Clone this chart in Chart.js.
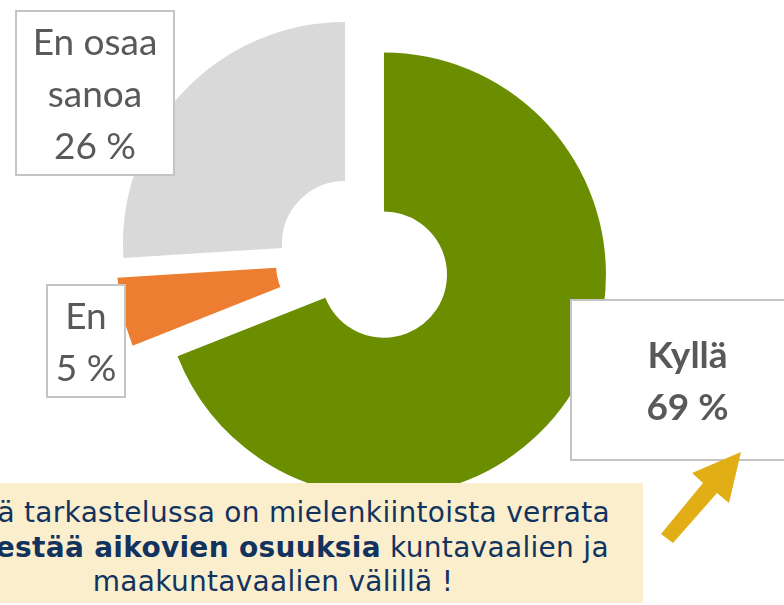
<!DOCTYPE html>
<html>
<head>
<meta charset="utf-8">
<script src="https://cdn.jsdelivr.net/npm/chart.js@4"></script>
<style>
  html, body { margin: 0; padding: 0; background: #fff; }
  #wrap { position: relative; width: 784px; height: 605px; overflow: hidden; }
  #myChart { position: absolute; left: 0; top: 0; }
  #note {
    position: absolute; left: -97px; top: 483px; width: 740px; height: 120px;
    box-sizing: border-box; padding-top: 13px;
    background: #faeecd; color: #13335f;
    font-family: "DejaVu Sans", Verdana, sans-serif; font-size: 28px; line-height: 34.5px;
    letter-spacing: 0.3px; text-align: center; white-space: nowrap;
  }
  #arrow { position: absolute; left: 0; top: 0; }
</style>
</head>
<body>
<div id="wrap">
  <canvas id="myChart" width="784" height="605"></canvas>
  <div id="note">Tässä tarkastelussa on mielenkiintoista verrata<br><b>äänestää aikovien osuuksia</b> kuntavaalien ja<br>maakuntavaalien välillä !</div>
  <svg id="arrow" width="784" height="605">
    <polygon points="741,452 692,473 703,483 661,534 673,543 717,493 729,503" fill="#e1ae15"/>
  </svg>
</div>
<script>
let labels = ["Kyllä", "En", "En osaa sanoa"],
  values = [69, 5, 26],
  colors = ["#6b8e00", "#ed7d31", "#d9d9d9"],
  pullOut = [111, 90, 88];

// data label boxes, in px
let labelBoxes = [
  { x: 571, y: 300, w: 233, h: 160, bold: true },
  { x: 47, y: 285, w: 78, h: 112, bold: false },
  { x: 16, y: 11, w: 158, h: 164, bold: false },
];

// chart.js makes a pulled out slice bigger (and a bit narrower), undo it so all slices share one ring
const keepRing = {
  id: "keepRing",
  afterDatasetUpdate(chart) {
    chart.getDatasetMeta(0).data.forEach((arc) => {
      const shift = (arc.options.offset || 0) / 4;
      const grow = shift * (1 - Math.sin(Math.min(Math.PI, arc.circumference)));
      arc.outerRadius -= grow;
      arc.innerRadius -= grow;
      const widen = grow / Math.PI / (arc.outerRadius + grow) / 2;
      arc.startAngle -= widen;
      arc.endAngle += widen;
    });
  },
};

function wrap(ctx, text, maxWidth) {
  let lines = [];
  let line = "";
  text.split(" ").forEach((word) => {
    let test = line ? line + " " + word : word;
    if (line && ctx.measureText(test).width > maxWidth) {
      lines.push(line);
      line = word;
    } else {
      line = test;
    }
  });
  lines.push(line);
  return lines;
}

const boxLabels = {
  id: "boxLabels",
  afterDraw(chart) {
    const ctx = chart.ctx;
    ctx.save();
    labelBoxes.forEach((box, i) => {
      ctx.fillStyle = "#fff";
      ctx.fillRect(box.x, box.y, box.w, box.h);
      ctx.strokeStyle = "#c4c4c4";
      ctx.lineWidth = 2;
      ctx.strokeRect(box.x, box.y, box.w, box.h);

      ctx.font = (box.bold ? "bold " : "") + "37px Lato";
      ctx.fillStyle = "#595959";
      ctx.textAlign = "center";
      ctx.textBaseline = "alphabetic";
      let lines = wrap(ctx, labels[i], box.w - 12).concat(values[i] + " %");
      let cx = box.x + box.w / 2;
      let cy = box.y + box.h / 2 + 14;
      lines.forEach((line, j) => {
        ctx.fillText(line, cx, cy + (j - (lines.length - 1) / 2) * 52);
      });
    });
    ctx.restore();
  },
};

var ctx = document.getElementById("myChart").getContext("2d");
var myChart = new Chart(ctx, {
  type: "doughnut",
  data: {
    labels: labels,
    datasets: [
      {
        data: values,
        backgroundColor: colors,
        borderWidth: 0,
        offset: pullOut,
      },
    ],
  },
  options: {
    responsive: false,
    animation: false,
    radius: 222,
    cutout: "28.4%",
    layout: { padding: { left: 0, right: 62, top: 0, bottom: 87 } },
    plugins: {
      legend: { display: false },
      tooltip: { enabled: false },
    },
  },
  plugins: [keepRing, boxLabels],
});
</script>
</body>
</html>
